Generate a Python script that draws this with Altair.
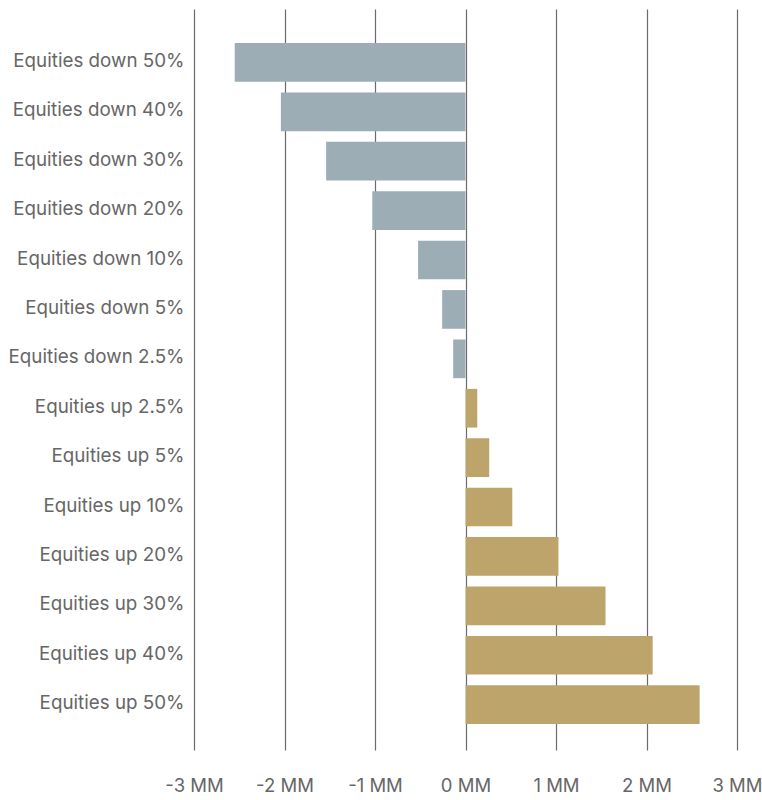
import altair as alt
import pandas as pd

scenarios = [
    "Equities down 50%", "Equities down 40%", "Equities down 30%", "Equities down 20%",
    "Equities down 10%", "Equities down 5%", "Equities down 2.5%",
    "Equities up 2.5%", "Equities up 5%", "Equities up 10%", "Equities up 20%",
    "Equities up 30%", "Equities up 40%", "Equities up 50%",
]
values_mm = [-2.55, -2.04, -1.54, -1.03, -0.524, -0.258, -0.136,
             0.13, 0.262, 0.517, 1.027, 1.547, 2.068, 2.587]
direction = ["down"] * 7 + ["up"] * 7
x_ticks = [-3, -2, -1, 0, 1, 2, 3]

df = pd.DataFrame({"scenario": scenarios, "value": values_mm, "direction": direction})

FONT = "Inter"

chart = alt.Chart(df).mark_bar().encode(
    y=alt.Y("scenario:N", sort=scenarios,
            scale=alt.Scale(paddingInner=0.217, paddingOuter=0.608, align=0.567),
            axis=alt.Axis(title=None, domain=False, ticks=False, labelPadding=10,
                          labelFontSize=18.8, labelColor="#666666", labelFont=FONT,
                          labelLimit=300, labelOffset=-1.5)),
    x=alt.X("value:Q", scale=alt.Scale(domain=[-3, 3], nice=False),
            axis=alt.Axis(title=None, values=x_ticks, domain=False, ticks=False,
                          grid=True, gridColor="#6b6b6b", gridWidth=1.2,
                          labelExpr="datum.value + ' MM'", labelPadding=26,
                          labelFlush=False, labelOverlap=False,
                          labelFontSize=18.5, labelColor="#666666", labelFont=FONT)),
    color=alt.Color("direction:N",
                    scale=alt.Scale(domain=["down", "up"], range=["#9CADB6", "#BDA46A"]),
                    legend=None),
).properties(
    width=543, height=741,
    autosize=alt.AutoSizeParams(type="none"),
    padding={"left": 194, "top": 9, "right": 25, "bottom": 50},
).configure_view(stroke=None)

chart.save("out.html", embed_options={"renderer": "svg", "actions": False})
